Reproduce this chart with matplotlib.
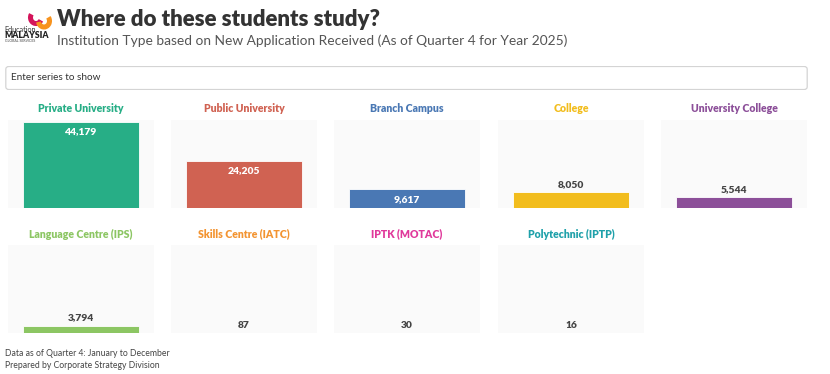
import matplotlib
matplotlib.use("Agg")
import matplotlib.pyplot as plt
from matplotlib.patches import Arc, FancyBboxPatch

plt.rcParams['font.family'] = ['Lato', 'DejaVu Sans']

categories = ["Private University", "Public University", "Branch Campus", "College",
              "University College", "Language Centre (IPS)", "Skills Centre (IATC)",
              "IPTK (MOTAC)", "Polytechnic (IPTP)"]
values = [44179, 24205, 9617, 8050, 5544, 3794, 87, 30, 16]
colors = ["#27ae86", "#d06252", "#4a78b4", "#f2bd1d", "#8c4f99",
          "#8cc663", "#f39431", "#e0399b", "#20a1aa"]

title = "Where do these students study?"
subtitle = "Institution Type based on New Application Received (As of Quarter 4 for Year 2025)"
footer = ["Data as of Quarter 4: January to December", "Prepared by Corporate Strategy Division"]

W, H = 830, 374
fig = plt.figure(figsize=(W / 100, H / 100), dpi=100)
fig.patch.set_facecolor("white")


def fx(x):
    return x / W


def fy(y):
    return 1 - y / H


# Title & subtitle
fig.text(fx(57), fy(19), title, fontsize=16.0, fontweight="heavy", color="#333333", va="center", ha="left")
fig.text(fx(57), fy(41), subtitle, fontsize=9.9, color="#555555", va="center", ha="left")

# Logo
lax = fig.add_axes([fx(3), fy(44), fx(52) - fx(3), fy(3) - fy(44)])
lax.set_xlim(0, 49)
lax.set_ylim(41, 0)
lax.axis("off")
lax.add_patch(Arc((33, 14.5), 11, 12, theta1=30, theta2=215, color="#d4145a", lw=3.6))
lax.add_patch(Arc((41, 18), 11, 12, theta1=-40, theta2=170, color="#f7931e", lw=3.6))
lax.text(1.5, 26, "Education", fontsize=5.2, color="#333333", va="center", ha="left")
lax.text(1.0, 33, "MALAYSIA", fontsize=6.2, fontweight="heavy", color="#222222", va="center", ha="left")
lax.text(1.5, 38, "GLOBAL SERVICES", fontsize=2.5, color="#444444", va="center", ha="left")

# Search box
bax = fig.add_axes([fx(5), fy(90), fx(808) - fx(5), fy(66) - fy(90)])
bax.axis("off")
bax.add_patch(FancyBboxPatch((0.001, 0.02), 0.998, 0.96, boxstyle="round,pad=0,rounding_size=0.004",
                             transform=bax.transAxes, facecolor="white", edgecolor="#d4d4d4",
                             linewidth=0.9, mutation_aspect=30))
bax.text(0.0075, 0.5, "Enter series to show", transform=bax.transAxes, fontsize=7.2,
         color="#333333", va="center", ha="left")

# Panels
panel_w, panel_h = 146, 88
xs = [8, 171, 334, 498, 661]
rows_top = [120, 245]
ymax = max(values) * 1.025
threshold = max(values) * 0.2

for i, (cat, val, col) in enumerate(zip(categories, values, colors)):
    r, c = divmod(i, 5)
    x0 = xs[c]
    y0 = rows_top[r]
    ax = fig.add_axes([fx(x0), fy(y0 + panel_h), fx(panel_w), fy(0) - fy(panel_h)])
    ax.set_facecolor("#fafafa")
    for s in ax.spines.values():
        s.set_visible(False)
    ax.set_xticks([])
    ax.set_yticks([])
    ax.set_xlim(-0.5, 0.5)
    ax.set_ylim(0, ymax)
    ax.bar([0], [val], width=0.8, color=col, edgecolor="white", linewidth=0.6)
    label = f"{val:,}"
    if val >= threshold:
        ax.annotate(label, (0, val), xytext=(0, -7), textcoords="offset points",
                    ha="center", va="center", fontsize=7.4, fontweight="heavy", color="white")
    else:
        ax.annotate(label, (0, val), xytext=(0, 5.5), textcoords="offset points",
                    ha="center", va="center", fontsize=7.4, fontweight="heavy", color="#444444")
    fig.text(fx(x0 + panel_w / 2), fy(y0 - 11), cat, fontsize=7.6, fontweight="heavy",
             color=col, ha="center", va="center")

fig.text(fx(5), fy(353), footer[0], fontsize=6.2, color="#444444", va="center", ha="left")
fig.text(fx(5), fy(366), footer[1], fontsize=6.2, color="#444444", va="center", ha="left")

fig.savefig("out.png", dpi=100, facecolor="white")
